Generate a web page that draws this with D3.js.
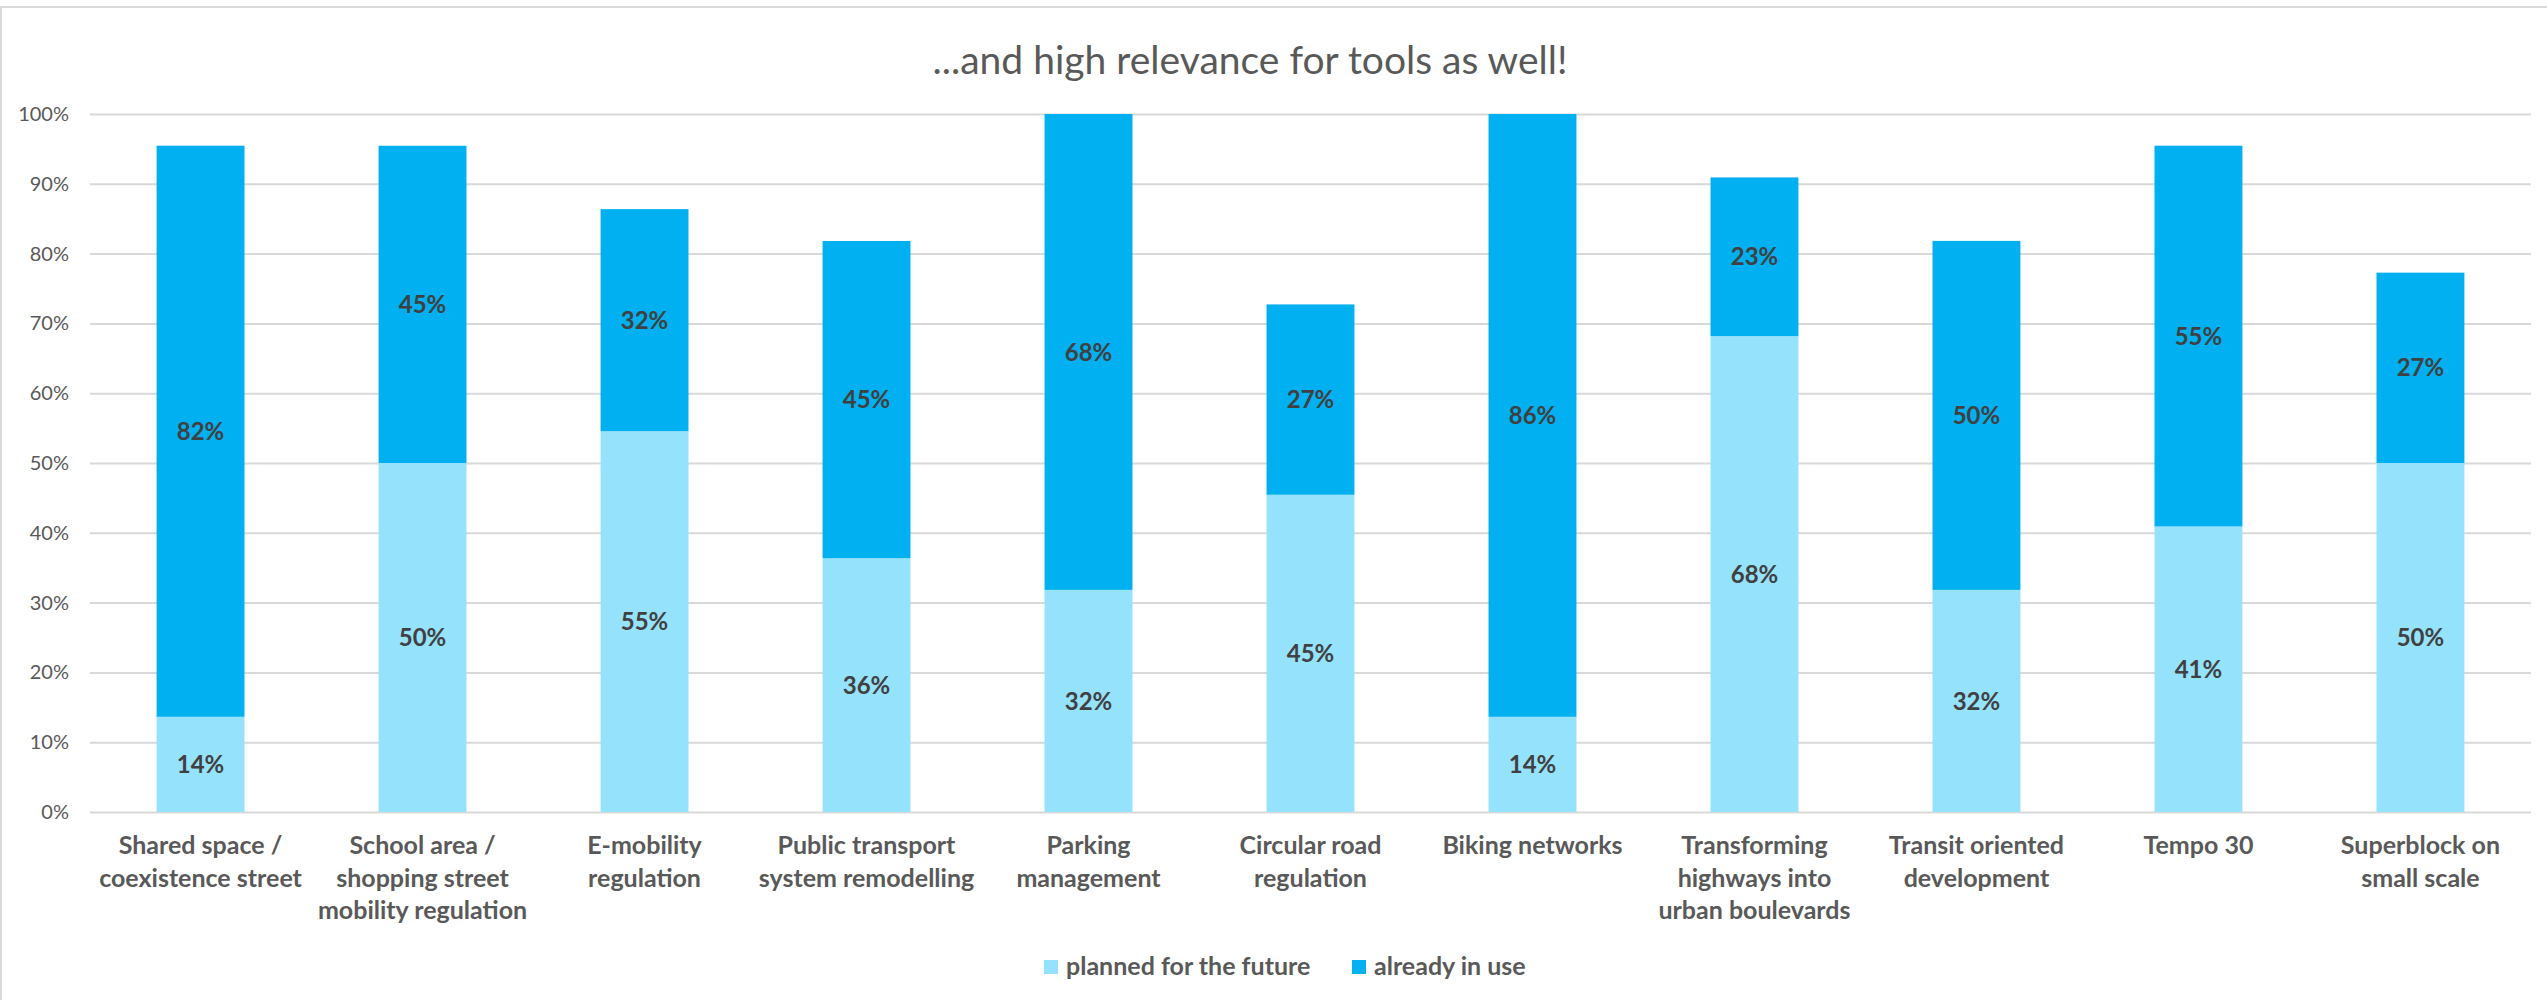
<!DOCTYPE html>
<html>
<head>
<meta charset="utf-8">
<script src="https://cdn.jsdelivr.net/npm/d3@7"></script>
<style>
  html, body { margin: 0; padding: 0; background: #ffffff; }
  svg { display: block; }
  text { font-family: Lato, "Open Sans", sans-serif; }
</style>
</head>
<body>
<svg id="chart" width="2547" height="1000"></svg>
<script>
// Tools for urban mobility: share of respondents using each tool now vs. planning it
const categories = [
  "Shared space /\ncoexistence street",
  "School area /\nshopping street\nmobility regulation",
  "E-mobility\nregulation",
  "Public transport\nsystem remodelling",
  "Parking\nmanagement",
  "Circular road\nregulation",
  "Biking networks",
  "Transforming\nhighways into\nurban boulevards",
  "Transit oriented\ndevelopment",
  "Tempo 30",
  "Superblock on\nsmall scale"
];
const planned = [13.64, 50.00, 54.55, 36.36, 31.82, 45.45, 13.64, 68.18, 31.82, 40.91, 50.00];
const inUse   = [81.82, 45.45, 31.82, 45.45, 68.18, 27.27, 86.36, 22.73, 50.00, 54.55, 27.27];
const seriesNames = ["planned for the future", "already in use"];
const yTicks = [0, 10, 20, 30, 40, 50, 60, 70, 80, 90, 100];
const title = "...and high relevance for tools as well!";

const colors = ["#95E2FC", "#00B0F0"];

const svg = d3.select("#chart");

// chart frame
svg.append("rect")
  .attr("x", 1).attr("y", 7)
  .attr("width", 2700).attr("height", 1200)
  .attr("fill", "#ffffff")
  .attr("stroke", "#d9d9d9").attr("stroke-width", 2);

const plot = { left: 90, right: 2531, top: 114, bottom: 812 };

const x = d3.scaleBand()
  .domain(categories)
  .range([plot.left, plot.right])
  .paddingInner(0.604)
  .paddingOuter(0.3);

const y = d3.scaleLinear()
  .domain([0, 100])
  .range([plot.bottom, plot.top]);

// gridlines + y axis labels
const yAxis = d3.axisLeft(y)
  .tickValues(yTicks)
  .tickSize(-(plot.right - plot.left))
  .tickPadding(21)
  .tickFormat(d => d + "%");

const gy = svg.append("g")
  .attr("transform", `translate(${plot.left},0)`)
  .call(yAxis);
gy.select(".domain").remove();
gy.selectAll(".tick line").attr("stroke", "#d9d9d9").attr("stroke-width", 2);
gy.selectAll(".tick text")
  .attr("fill", "#595959")
  .style("font-size", "20px")
  .style("font-family", "Lato, sans-serif");

// stacked series
const rows = categories.map((c, i) => ({ cat: c, planned: planned[i], inUse: inUse[i] }));
const stack = d3.stack().keys(["planned", "inUse"]);
const layers = stack(rows);

const gBars = svg.append("g");
layers.forEach((layer, li) => {
  gBars.selectAll(null)
    .data(layer)
    .enter().append("rect")
    .attr("x", d => x(d.data.cat))
    .attr("width", x.bandwidth())
    .attr("y", d => y(d[1]))
    .attr("height", d => y(d[0]) - y(d[1]))
    .attr("fill", colors[li]);
});

// value labels centred in each segment
layers.forEach(layer => {
  svg.append("g").selectAll(null)
    .data(layer)
    .enter().append("text")
    .attr("x", d => x(d.data.cat) + x.bandwidth() / 2)
    .attr("y", d => (y(d[0]) + y(d[1])) / 2)
    .attr("dy", "0.36em")
    .attr("text-anchor", "middle")
    .attr("fill", "#404040")
    .style("font-size", "24px")
    .style("font-weight", "bold")
    .text(d => Math.round(d[1] - d[0]) + "%");
});

// category labels
const gx = svg.append("g");
categories.forEach(c => {
  const t = gx.append("text")
    .attr("x", x(c) + x.bandwidth() / 2)
    .attr("y", 854)
    .attr("text-anchor", "middle")
    .attr("fill", "#595959")
    .style("font-size", "25px")
    .style("font-weight", "bold");
  c.split("\n").forEach((line, k) => {
    t.append("tspan")
      .attr("x", x(c) + x.bandwidth() / 2)
      .attr("dy", k === 0 ? 0 : 32.5)
      .text(line);
  });
});

// title
svg.append("text")
  .attr("x", 1250).attr("y", 74)
  .attr("text-anchor", "middle")
  .attr("fill", "#595959")
  .style("font-size", "39px")
  .text(title);

// legend
const legend = svg.append("g");
const legendX = [1044, 1352];
seriesNames.forEach((name, i) => {
  legend.append("rect")
    .attr("x", legendX[i]).attr("y", 960)
    .attr("width", 14).attr("height", 14)
    .attr("fill", colors[i]);
  legend.append("text")
    .attr("x", legendX[i] + 22).attr("y", 975)
    .attr("fill", "#595959")
    .style("font-size", "25px")
    .style("font-weight", "bold")
    .text(name);
});
</script>
</body>
</html>
